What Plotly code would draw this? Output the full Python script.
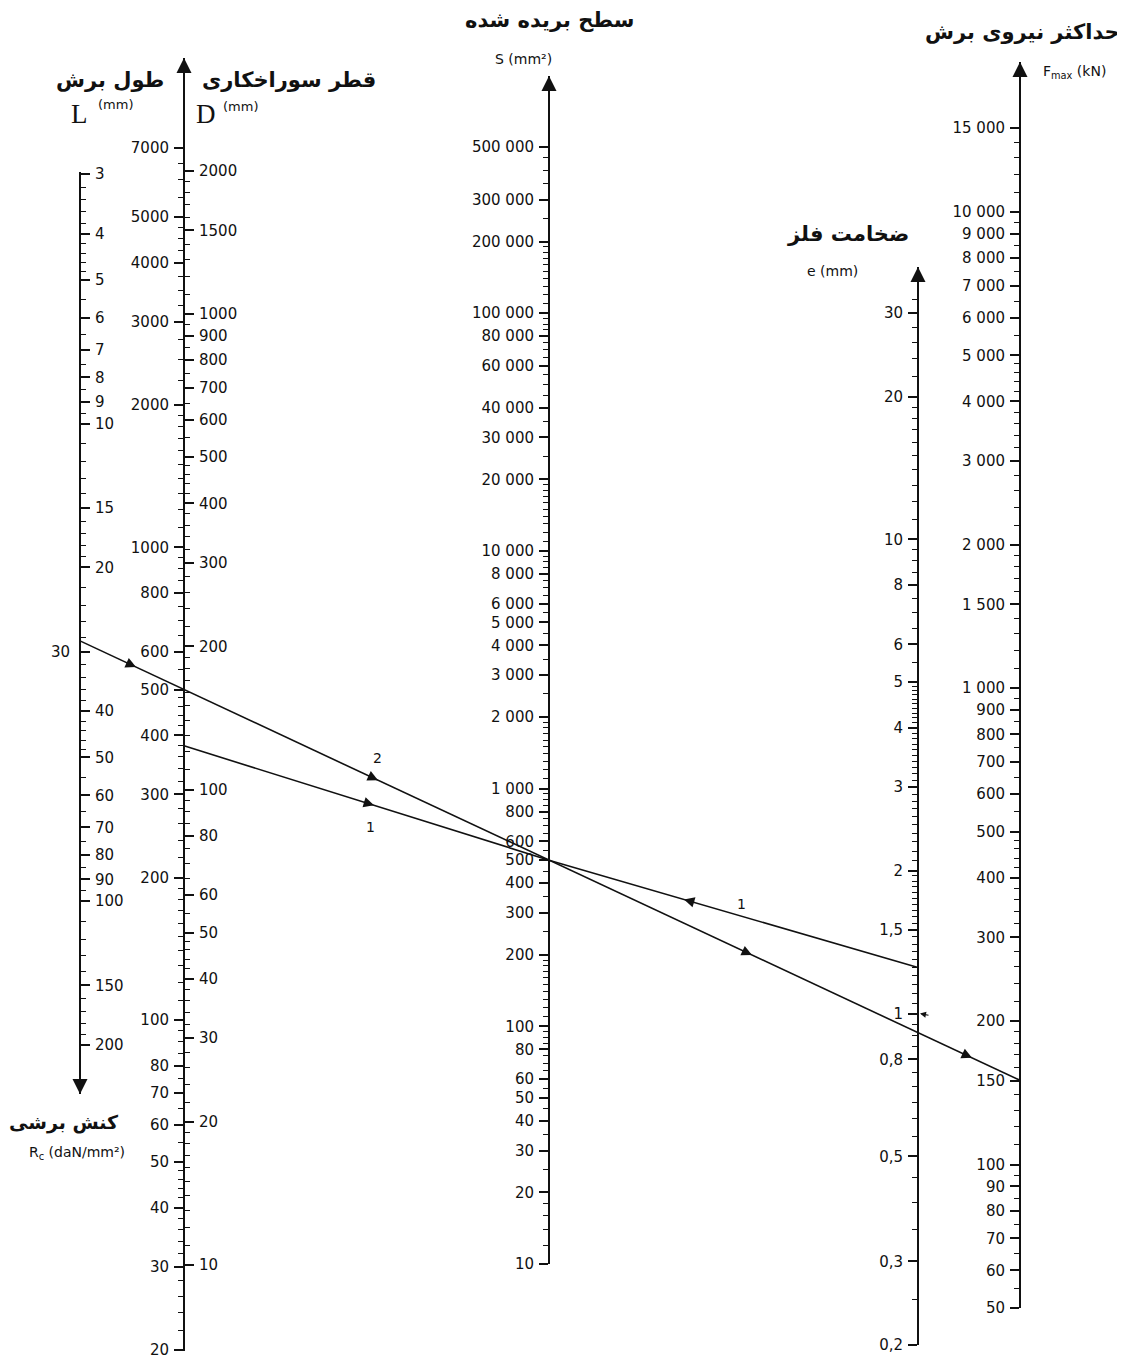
import math
import plotly.graph_objects as go

W, H = 1125, 1360
OFF = 8  # default page margin of the browser body; geometry below is in screen pixels

# ---------------- data (scale graduations) ----------------
rc_ticks = [3, 4, 5, 6, 7, 8, 9, 10, 15, 20, 30, 40, 50, 60, 70, 80, 90, 100, 150, 200]
rc_labels = ["3", "4", "5", "6", "7", "8", "9", "10", "15", "20", "", "40", "50", "60",
             "70", "80", "90", "100", "150", "200"]
rc_left_ticks = [30]
rc_left_labels = ["30"]

l_ticks = [7000, 5000, 4000, 3000, 2000, 1000, 800, 600, 500, 400, 300, 200, 100,
           80, 70, 60, 50, 40, 30, 20]
l_labels = ["7000", "5000", "4000", "3000", "2000", "1000", "800", "600", "500", "400",
            "300", "200", "100", "80", "70", "60", "50", "40", "30", "20"]

d_ticks = [2000, 1500, 1000, 900, 800, 700, 600, 500, 400, 300, 200, 100, 80, 60, 50,
           40, 30, 20, 10]
d_labels = ["2000", "1500", "1000", "900", "800", "700", "600", "500", "400", "300",
            "200", "100", "80", "60", "50", "40", "30", "20", "10"]

s_ticks = [500000, 300000, 200000, 100000, 80000, 60000, 40000, 30000, 20000, 10000,
           8000, 6000, 5000, 4000, 3000, 2000, 1000, 800, 600, 500, 400, 300, 200,
           100, 80, 60, 50, 40, 30, 20, 10]
s_labels = ["500 000", "300 000", "200 000", "100 000", "80 000", "60 000", "40 000",
            "30 000", "20 000", "10 000", "8 000", "6 000", "5 000", "4 000", "3 000",
            "2 000", "1 000", "800", "600", "500", "400", "300", "200", "100", "80",
            "60", "50", "40", "30", "20", "10"]

e_ticks = [30, 20, 10, 8, 6, 5, 4, 3, 2, 1.5, 1, 0.8, 0.5, 0.3, 0.2]
e_labels = ["30", "20", "10", "8", "6", "5", "4", "3", "2", "1,5", "1", "0,8", "0,5",
            "0,3", "0,2"]

f_ticks = [15000, 10000, 9000, 8000, 7000, 6000, 5000, 4000, 3000, 2000, 1500, 1000,
           900, 800, 700, 600, 500, 400, 300, 200, 150, 100, 90, 80, 70, 60, 50]
f_labels = ["15 000", "10 000", "9 000", "8 000", "7 000", "6 000", "5 000", "4 000",
            "3 000", "2 000", "1 500", "1 000", "900", "800", "700", "600", "500",
            "400", "300", "200", "150", "100", "90", "80", "70", "60", "50"]

# worked examples (values read where the lines cross the scales)
ex2_L = 500      # line 2 crosses L scale
ex2_S = 500      # line 2 crosses S scale (extended from Rc scale to Fmax scale)
ex1_L = 380      # line 1 starts on L/D scale
ex1_S = 500
ex1_e = 1.25

# ---------------- layout / geometry (screen pixels) ----------------
geo = {
    "rc": dict(x=80, top=172, bottom=1094, cal=(3, 174, 200, 1045)),
    "l":  dict(x=184, top=58, bottom=1351, cal=(7000, 148, 20, 1350)),
    "d":  dict(x=184, top=58, bottom=1351, cal=(2000, 171, 10, 1265)),
    "s":  dict(x=549, top=76, bottom=1264, cal=(500000, 147, 10, 1264)),
    "e":  dict(x=918, top=267, bottom=1345, cal=(30, 313, 0.2, 1345)),
    "f":  dict(x=1020, top=62, bottom=1308, cal=(15000, 128, 50, 1308)),
}


def k_of(g):
    v1, p1, v2, p2 = g["cal"]
    return (p2 - p1) / (math.log10(v1) - math.log10(v2))


def pix(name, v):
    g = geo[name]
    v1, p1, _, _ = g["cal"]
    return p1 + (math.log10(v1) - math.log10(v)) * k_of(g)


def logrange(name):
    g = geo[name]
    v1, p1, _, _ = g["cal"]
    k = k_of(g)
    lv = lambda p: math.log10(v1) - (p - p1) / k
    return [lv(g["bottom"]), lv(g["top"])]


def grid(segs, exclude):
    out = []
    for a, b, st in segs:
        n = int(round((b - a) / st))
        for i in range(1, n):
            v = round(a + i * st, 6)
            if all(abs(v - m) > 1e-9 for m in exclude):
                out.append(v)
    return out


minors = {
    "rc": grid([(3, 5, 0.2), (5, 10, 0.5), (10, 20, 1), (20, 50, 2), (50, 100, 5),
                (100, 200, 10)], rc_ticks),
    "l": grid([(20, 50, 2), (50, 100, 5), (100, 200, 10), (200, 500, 20),
               (500, 1000, 50), (1000, 2000, 100), (2000, 5000, 250), (5000, 7000, 500)],
              l_ticks),
    "d": grid([(10, 20, 1), (20, 50, 2), (50, 100, 5), (100, 200, 10), (200, 500, 20),
               (500, 1000, 50), (1000, 2000, 100)], d_ticks),
    "s": grid([(10, 20, 2), (20, 100, 5), (100, 200, 10), (200, 1000, 50),
               (1000, 2000, 100), (2000, 10000, 500), (10000, 20000, 1000),
               (20000, 100000, 5000), (100000, 200000, 10000), (200000, 500000, 50000)],
              s_ticks),
    "e": grid([(0.2, 1, 0.05), (1, 2, 0.05), (2, 5, 0.1), (5, 10, 0.5), (10, 20, 1),
               (20, 34, 2)], e_ticks),
    "f": grid([(50, 100, 5), (100, 200, 10), (200, 500, 20), (500, 1000, 50),
               (1000, 2000, 100), (2000, 5000, 200), (5000, 10000, 500),
               (10000, 16000, 1000)], f_ticks),
}

fig = go.Figure()
INK = "#111"
TICKFONT = dict(family="DejaVu Sans", size=15, color=INK)

axes_spec = [
    ("y2", "rc", "right", rc_ticks, rc_labels, True),
    ("y3", "rc", "left", rc_left_ticks, rc_left_labels, False),
    ("y4", "l", "left", l_ticks, l_labels, True),
    ("y5", "d", "right", d_ticks, d_labels, True),
    ("y6", "s", "left", s_ticks, s_labels, True),
    ("y7", "e", "left", e_ticks, e_labels, True),
    ("y8", "f", "left", f_ticks, f_labels, True),
]

layout_axes = {}
for ax_id, name, side, tv, tt, showline in axes_spec:
    g = geo[name]
    rng = logrange(name)
    fig.add_trace(go.Scatter(x=[OFF], y=[10 ** ((rng[0] + rng[1]) / 2)], xaxis="x",
                             yaxis=ax_id, mode="markers", marker=dict(opacity=0),
                             hoverinfo="skip", showlegend=False))
    is_minor = ax_id != "y3"
    ax = dict(
        type="log", range=rng, anchor="free", position=(g["x"] - OFF) / W, side=side,
        domain=[1 - (g["bottom"] - OFF) / H, 1 - (g["top"] - OFF) / H],
        showline=showline, linecolor=INK, linewidth=2, automargin=False,
        showgrid=False, zeroline=False,
        tickmode="array", tickvals=tv, ticktext=tt,
        ticks="outside" if is_minor else "", ticklen=9, tickwidth=1.6, tickcolor=INK,
        tickfont=TICKFONT, ticklabelstandoff=2 if is_minor else 10,
    )
    if is_minor:
        ax["minor"] = dict(tickmode="array", tickvals=minors[name], ticks="outside",
                           ticklen=5, tickwidth=1.3, tickcolor=INK)
    layout_axes["yaxis" + ax_id[1:]] = ax

# ---------------- worked example lines (main frame in screen pixels) ----------------
xa, ya = geo["l"]["x"], pix("l", ex2_L)
xb, yb = geo["s"]["x"], pix("s", ex2_S)
slope2 = (yb - ya) / (xb - xa)
x_start, x_end = geo["rc"]["x"], geo["f"]["x"]
line2_x = [x_start, x_end]
line2_y = [ya + slope2 * (x_start - xa), ya + slope2 * (x_end - xa)]
fig.add_trace(go.Scatter(x=line2_x, y=line2_y, mode="lines",
                         line=dict(color=INK, width=1.6), hoverinfo="skip",
                         showlegend=False))

line1_x = [geo["l"]["x"], geo["s"]["x"], geo["e"]["x"]]
line1_y = [pix("l", ex1_L), pix("s", ex1_S), pix("e", ex1_e)]
fig.add_trace(go.Scatter(x=line1_x, y=line1_y, mode="lines",
                         line=dict(color=INK, width=1.6), hoverinfo="skip",
                         showlegend=False))

annotations = []


def y_on2(x):
    return ya + slope2 * (x - xa)


def y_on1(x):
    if x <= line1_x[1]:
        return line1_y[0] + (line1_y[1] - line1_y[0]) * (x - line1_x[0]) / (line1_x[1] - line1_x[0])
    return line1_y[1] + (line1_y[2] - line1_y[1]) * (x - line1_x[1]) / (line1_x[2] - line1_x[1])


def line_arrow(x, fy, direction):
    y = fy(x)
    dx = 1.0 * direction
    dy = (fy(x + 1) - fy(x)) * direction
    n = math.hypot(dx, dy)
    annotations.append(dict(x=x, y=y, xref="x", yref="y", text="", showarrow=True,
                            arrowhead=2, arrowsize=1.3, arrowwidth=1.6, arrowcolor=INK,
                            ax=-dx / n * 12, ay=-dy / n * 12, standoff=0))


line_arrow(136, y_on2, 1)
line_arrow(378, y_on2, 1)
line_arrow(752, y_on2, 1)
line_arrow(972, y_on2, 1)
line_arrow(374, y_on1, 1)
line_arrow(684, y_on1, -1)

# small pointer at e = 1
annotations.append(dict(x=geo["e"]["x"] + 2, y=pix("e", 1), xref="x", yref="y", text="",
                        showarrow=True, arrowhead=2, arrowsize=1, arrowwidth=1.2,
                        arrowcolor=INK, ax=10, ay=2, standoff=0))

# axis end arrows
for name, end in [("rc", "bottom"), ("l", "top"), ("s", "top"), ("e", "top"), ("f", "top")]:
    g = geo[name]
    yy = g[end]
    annotations.append(dict(x=g["x"], y=yy, xref="x", yref="y", text="", showarrow=True,
                            arrowhead=2, arrowsize=1.5, arrowwidth=2, arrowcolor=INK,
                            ax=0, ay=(-20 if end == "bottom" else 20), standoff=0))

# line labels
for txt, x, y in [("2", 377, 758), ("1", 370, 827), ("1", 741, 904)]:
    annotations.append(dict(x=x, y=y, xref="x", yref="y", text=txt, showarrow=False,
                            font=dict(family="DejaVu Sans", size=14, color=INK)))

# titles
for txt, x, y, sz in [("طول برش", 110, 80, 21), ("قطر سوراخکاری", 289, 80, 21),
                      ("سطح بریده شده", 549, 20, 21), ("حداکثر نیروی برش", 1022, 32, 21),
                      ("ضخامت فلز", 848, 234, 21), ("کنش برشی", 64, 1122, 19)]:
    annotations.append(dict(x=x, y=y, xref="x", yref="y", text="<b>" + txt + "</b>",
                            showarrow=False,
                            font=dict(family="DejaVu Sans", size=sz, color=INK)))

UNIT = dict(family="DejaVu Sans", size=14, color=INK)
MM = dict(family="DejaVu Sans", size=13, color=INK)
SERIF = dict(family="Liberation Serif", size=27, color=INK)
annotations += [
    dict(x=79, y=114, xref="x", yref="y", text="L", showarrow=False, font=SERIF),
    dict(x=115, y=104, xref="x", yref="y", text="(mm)", showarrow=False, font=MM),
    dict(x=206, y=114, xref="x", yref="y", text="D", showarrow=False, font=SERIF),
    dict(x=240, y=106, xref="x", yref="y", text="(mm)", showarrow=False, font=MM),
    dict(x=523, y=59, xref="x", yref="y", text="S (mm²)", showarrow=False, font=UNIT),
    dict(x=1074, y=72, xref="x", yref="y", text="F<sub>max</sub> (kN)", showarrow=False,
         font=UNIT),
    dict(x=832, y=271, xref="x", yref="y", text="e (mm)", showarrow=False, font=UNIT),
    dict(x=77, y=1153, xref="x", yref="y", text="R<sub>c</sub> (daN/mm²)",
         showarrow=False, font=UNIT),
]

fig.update_layout(
    width=W, height=H, margin=dict(l=0, r=0, t=0, b=0),
    paper_bgcolor="white", plot_bgcolor="rgba(0,0,0,0)",
    showlegend=False,
    xaxis=dict(range=[OFF, W + OFF], visible=False, domain=[0, 1], fixedrange=True,
               automargin=False),
    yaxis=dict(range=[H + OFF, OFF], visible=False, domain=[0, 1], fixedrange=True,
               automargin=False),
    annotations=annotations,
    **layout_axes,
)

fig.write_html("out.html")
